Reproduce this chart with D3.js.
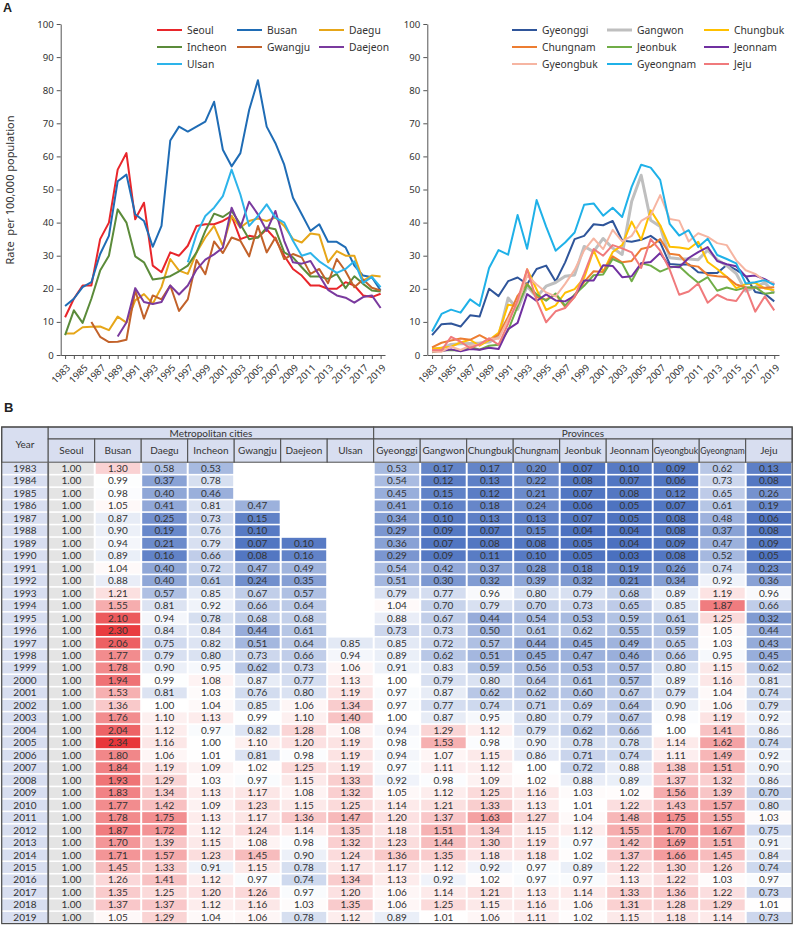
<!DOCTYPE html>
<html><head><meta charset="utf-8">
<script src="https://cdn.jsdelivr.net/npm/d3@7"></script>
<style>body{margin:0;background:#fff}svg{display:block}</style>
</head><body>
<svg id="c" width="794" height="925"></svg>
<script>
// ---------- categories ----------
const years = [1983,1984,1985,1986,1987,1988,1989,1990,1991,1992,1993,1994,1995,1996,1997,1998,1999,2000,2001,2002,2003,2004,2005,2006,2007,2008,2009,2010,2011,2012,2013,2014,2015,2016,2017,2018,2019];
const metroNames = ["Seoul","Busan","Daegu","Incheon","Gwangju","Daejeon","Ulsan"];
const provNames = ["Gyeonggi","Gangwon","Chungbuk","Chungnam","Jeonbuk","Jeonnam","Gyeongbuk","Gyeongnam","Jeju"];
const yTicks = [0,10,20,30,40,50,60,70,80,90,100];

// ---------- panel A: rates per 100,000 ----------
const seoul   = [11.4,17,21,21,35,40,56,61,41,46,27,25,31,30,33,39,39.5,39.5,40.5,42,35,36,35.5,38,35,30,26,24,21,21,20,20,22,21,18,17.5,18.5];
const busan   = [14.8,17,20.5,22,30.5,36,52.5,54.5,42.5,40.5,32.7,39,64.8,69,67.5,69,70.5,76.5,62,57,61,74,83,69,64,57.5,47.5,42.5,37.5,39.5,34.2,34.2,32.5,27,24,23.5,19.5];
const daegu   = [6.5,6.5,8.4,8.5,8.6,7.5,11.6,9.8,16.5,18.4,15.5,20.5,29,25.5,24.5,31,35.5,39,33,42,38.5,40.5,41.2,40.5,41.5,39,35,34,36.7,36.3,28,31.4,30,30,22.5,24,23.7];
const incheon = [6,13.5,9.7,17,25.5,30,44,40,29.8,28,22.8,23.2,23.8,25.3,27,31,37.5,42.7,41.7,43.5,39.5,35,35.5,38.5,38,31,29.5,26.5,23.7,23.7,23,24.5,20.2,23.8,21.5,19.5,19.2];
const gwangju = [null,null,null,10,5.5,3.9,4.0,4.6,19.5,11,18,16.8,21,13.3,16.8,28.7,24.4,34.3,30.8,35.5,34.5,29.8,39,31,35.5,29,30.5,29.5,24.5,26,21.7,29,25.3,20.5,22.8,20.3,19.5];
const daejeon = [null,null,null,null,null,null,5.6,9.8,20.2,16,15.4,16,21,18.3,21,25.8,28.8,30.4,32.4,44.5,38.5,46.3,42.5,37.5,43.5,34.5,28,27.6,28.4,24,19.7,18,17.3,15.8,17.5,18,14.2];
const ulsan   = [null,null,null,null,null,null,null,null,null,null,null,null,null,null,28,36.5,42,44.5,48,56,48.5,39,42,45.5,41.5,40,34.5,30,30.8,28.3,26.5,24.8,26,28.3,21.8,23.6,20.5];

const gyeonggi  = [6,9.3,9.5,8.6,12,11.6,20,17.8,22.3,23.4,21.4,26,27,22.2,28,35,36,39.5,39.2,40.5,34.6,34.2,34.8,36,34,27.5,27.3,27.4,25,24.8,24.8,27.2,25.7,23.8,19,18.5,16.2];
const gangwon   = [1.9,2,3.2,3.4,3.5,3.6,3.9,5.5,17.2,13.8,20.8,17.5,20.8,21.9,23.8,24.2,32.8,31.2,35.2,32.3,30.4,46.4,54.3,40.7,38.8,29.4,29.1,29,28.8,31.7,28.8,27,24.6,19.3,20.5,21.9,18.7];
const chungbuk  = [1.9,2.2,2.5,3.8,4.6,2.8,4.5,6.7,15.2,14.7,25.9,19.8,13.6,15,18.8,19.9,23.3,31.6,25.1,31.1,33.2,40.3,34.8,43.7,39.2,32.7,32.5,32,34.2,28.1,26,23.6,20.2,21.4,21.8,20.1,19.6];
const chungnam  = [2.3,3.7,4.4,5,4.6,6,4.5,6.1,11.5,17.9,21.6,17.5,16.7,18.3,14.5,17.6,22.1,25.3,25.1,29.8,28,28.4,32,32.7,35,30.6,30.2,27.1,26.7,24.2,23.8,23.6,21.3,20.4,20.3,20.3,20.5];
const jeonbuk   = [0.8,1.4,1.5,1.3,2.5,1.6,2.8,3.1,7.4,14.7,21.3,18.3,16.4,18.6,14.9,18.3,20.9,24.1,24.3,29,27.7,22.3,27.7,27,25.2,26.4,26.8,24.2,21.8,23.5,19.4,20.4,19.6,20.4,20.5,18.5,18.9];
const jeonnam   = [1.1,1.2,1.7,1.1,1.8,1.6,2.2,1.8,7.8,9.7,18.4,16.3,18.3,16.5,16.2,17.9,22.5,22.5,27.1,26.9,23.5,23.8,27.7,28.1,30.8,26.7,26.5,29.3,31.1,32.6,28.4,27.4,26.8,23.7,24,22.9,21.3];
const gyeongbuk = [1,1,2.5,1.5,2.8,3.2,5,4.9,10.7,15.6,24,21.3,18.9,17.7,21.5,25.7,31.6,35.2,32,37.8,34.3,36,40.5,42.2,48.3,41.1,40.6,34.3,36.8,35.7,33.8,33.2,28.6,25.6,24.5,22.4,21.8];
const gyeongnam = [7.1,12.4,13.7,12.8,16.8,14.8,26.3,31.7,30.3,42.3,32.1,46.8,38.8,31.5,34,37,45.4,45.8,42.1,44.5,41.7,50.8,57.5,56.6,52.9,39.6,36.1,37.7,32.6,35.1,30.2,29,27.7,21.6,22,22.6,21.1];
const jeju      = [1.5,1.4,5.5,4,2.1,3.2,5,3.1,9.4,16.6,25.9,16.5,9.9,13.2,14.2,17.6,24.5,32,30,33.2,32.2,31,26.3,35,31.5,25.8,18.2,19.2,21.6,15.8,18.2,16.8,16.3,20.4,13.1,17.7,13.5];

// ---------- panel B: rate relative to Seoul ----------
const relSeoul    = [1,1,1,1,1,1,1,1,1,1,1,1,1,1,1,1,1,1,1,1,1,1,1,1,1,1,1,1,1,1,1,1,1,1,1,1,1];
const relBusan    = [1.30,0.99,0.98,1.05,0.87,0.90,0.94,0.89,1.04,0.88,1.21,1.55,2.10,2.30,2.06,1.77,1.78,1.94,1.53,1.36,1.76,2.04,2.34,1.80,1.84,1.93,1.83,1.77,1.78,1.87,1.70,1.71,1.45,1.26,1.35,1.37,1.05];
const relDaegu    = [0.58,0.37,0.40,0.41,0.25,0.19,0.21,0.16,0.40,0.40,0.57,0.81,0.94,0.84,0.75,0.79,0.90,0.99,0.81,1.00,1.10,1.12,1.16,1.06,1.19,1.29,1.34,1.42,1.75,1.72,1.39,1.57,1.33,1.41,1.25,1.37,1.29];
const relIncheon  = [0.53,0.78,0.46,0.81,0.73,0.76,0.79,0.66,0.72,0.61,0.85,0.92,0.78,0.84,0.82,0.80,0.95,1.08,1.03,1.04,1.13,0.97,1.00,1.01,1.09,1.03,1.13,1.09,1.13,1.12,1.15,1.23,0.91,1.12,1.20,1.12,1.04];
const relGwangju  = [null,null,null,0.47,0.15,0.10,0.07,0.08,0.47,0.24,0.67,0.66,0.68,0.44,0.51,0.73,0.62,0.87,0.76,0.85,0.99,0.82,1.10,0.81,1.02,0.97,1.17,1.23,1.17,1.24,1.08,1.45,1.15,0.97,1.26,1.16,1.06];
const relDaejeon  = [null,null,null,null,null,null,0.10,0.16,0.49,0.35,0.57,0.64,0.68,0.61,0.64,0.66,0.73,0.77,0.80,1.06,1.10,1.28,1.20,0.98,1.25,1.15,1.08,1.15,1.36,1.14,0.98,0.90,0.78,0.74,0.97,1.03,0.78];
const relUlsan    = [null,null,null,null,null,null,null,null,null,null,null,null,null,null,0.85,0.94,1.06,1.13,1.19,1.34,1.40,1.08,1.19,1.19,1.19,1.33,1.32,1.25,1.47,1.35,1.32,1.24,1.17,1.34,1.20,1.35,1.12];
const relGyeonggi = [0.53,0.54,0.45,0.41,0.34,0.29,0.36,0.29,0.54,0.51,0.79,1.04,0.88,0.73,0.85,0.89,0.91,1.00,0.97,0.97,1.00,0.94,0.98,0.94,0.97,0.92,1.05,1.14,1.20,1.18,1.23,1.36,1.17,1.13,1.06,1.06,0.89];
const relGangwon  = [0.17,0.12,0.15,0.16,0.10,0.09,0.07,0.09,0.42,0.30,0.77,0.70,0.67,0.73,0.72,0.62,0.83,0.79,0.87,0.77,0.87,1.29,1.53,1.07,1.11,0.98,1.12,1.21,1.37,1.51,1.44,1.35,1.12,0.92,1.14,1.25,1.01];
const relChungbuk = [0.17,0.13,0.12,0.18,0.13,0.07,0.08,0.11,0.37,0.32,0.96,0.79,0.44,0.50,0.57,0.51,0.59,0.80,0.62,0.74,0.95,1.12,0.98,1.15,1.12,1.09,1.25,1.33,1.63,1.34,1.30,1.18,0.92,1.02,1.21,1.15,1.06];
const relChungnam = [0.20,0.22,0.21,0.24,0.13,0.15,0.08,0.10,0.28,0.39,0.80,0.70,0.54,0.61,0.44,0.45,0.56,0.64,0.62,0.71,0.80,0.79,0.90,0.86,1.00,1.02,1.16,1.13,1.27,1.15,1.19,1.18,0.97,0.97,1.13,1.16,1.11];
const relJeonbuk  = [0.07,0.08,0.07,0.06,0.07,0.04,0.05,0.05,0.18,0.32,0.79,0.73,0.53,0.62,0.45,0.47,0.53,0.61,0.60,0.69,0.79,0.62,0.78,0.71,0.72,0.88,1.03,1.01,1.04,1.12,0.97,1.02,0.89,0.97,1.14,1.06,1.02];
const relJeonnam  = [0.10,0.07,0.08,0.05,0.05,0.04,0.04,0.03,0.19,0.21,0.68,0.65,0.59,0.55,0.49,0.46,0.57,0.57,0.67,0.64,0.67,0.66,0.78,0.74,0.88,0.89,1.02,1.22,1.48,1.55,1.42,1.37,1.22,1.13,1.33,1.31,1.15];
const relGyeongbuk= [0.09,0.06,0.12,0.07,0.08,0.08,0.09,0.08,0.26,0.34,0.89,0.85,0.61,0.59,0.65,0.66,0.80,0.89,0.79,0.90,0.98,1.00,1.14,1.11,1.38,1.37,1.56,1.43,1.75,1.70,1.69,1.66,1.30,1.22,1.36,1.28,1.18];
const relGyeongnam= [0.62,0.73,0.65,0.61,0.48,0.37,0.47,0.52,0.74,0.92,1.19,1.87,1.25,1.05,1.03,0.95,1.15,1.16,1.04,1.06,1.19,1.41,1.62,1.49,1.51,1.32,1.39,1.57,1.55,1.67,1.51,1.45,1.26,1.03,1.22,1.29,1.14];
const relJeju     = [0.13,0.08,0.26,0.19,0.06,0.08,0.09,0.05,0.23,0.36,0.96,0.66,0.32,0.44,0.43,0.45,0.62,0.81,0.74,0.79,0.92,0.86,0.74,0.92,0.90,0.86,0.70,0.80,1.03,0.75,0.91,0.84,0.74,0.97,0.73,1.01,0.73];

// ---------- styles ----------
const metroColors = ["#e8262b","#1f6cb5","#e6a619","#5b8b3a","#c2622a","#7a3a9e","#2db4ea"];
const provColors  = ["#2f559a","#bfbfbf","#ffc000","#ed7d31","#70ad47","#7030a0","#f6b5a2","#1fb1e8","#f07a7c"];
const provWidths  = [2,3,2,2,2,2,2,2,2];

const svg = d3.select("#c");
const chartFont = "'Noto Sans', 'DejaVu Sans', sans-serif";
const axisCol = "#555";

function drawChart(cfg){
  const g = svg.append("g");
  const y = d3.scaleLinear().domain([0,100]).range([355,24]);
  const x = d3.scalePoint().domain(years).range([cfg.x0,cfg.x1]).padding(0.5);
  const ya = g.append("g").attr("transform",`translate(${cfg.x0},0)`)
    .call(d3.axisLeft(y).tickValues(yTicks).tickSize(4).tickSizeOuter(0).tickPadding(3));
  ya.selectAll("path,line").attr("stroke",axisCol);
  ya.selectAll("text").attr("font-family",chartFont).attr("font-size",9.6).attr("fill","#333");
  const xa = g.append("g").attr("transform","translate(0,355)")
    .call(d3.axisBottom(x).tickSize(4).tickSizeOuter(0).tickFormat((d,i)=> i%2===0 ? d : ""));
  xa.selectAll("path,line").attr("stroke",axisCol);
  xa.selectAll("text").attr("font-family",chartFont).attr("font-size",9.6).attr("fill","#333")
    .attr("x",0).attr("y",0).attr("dy","0.35em").attr("text-anchor","end")
    .attr("transform","translate(3,11) rotate(-45)");
  const line = d3.line().defined(d=>d.v!=null).x(d=>x(d.yr)).y(d=>y(d.v));
  cfg.series.forEach((s,i)=>{
    g.append("path").datum(years.map((yr,k)=>({yr:yr,v:s[k]})))
      .attr("d",line).attr("fill","none").attr("stroke",cfg.colors[i])
      .attr("stroke-width",cfg.widths ? cfg.widths[i] : 2).attr("stroke-linejoin","round");
  });
  cfg.names.forEach((n,i)=>{
    const lx = cfg.legX[i%3], ly = [30,47,64][Math.floor(i/3)];
    g.append("line").attr("x1",lx).attr("x2",lx+25).attr("y1",ly).attr("y2",ly)
      .attr("stroke",cfg.colors[i]).attr("stroke-width",cfg.widths ? cfg.widths[i] : 2);
    g.append("text").attr("x",lx+30).attr("y",ly).attr("dy","0.35em")
      .attr("font-family",chartFont).attr("font-size",10.3).attr("fill","#333").text(n);
  });
}

drawChart({x0:60.7,x1:385,names:metroNames,colors:metroColors,
  series:[seoul,busan,daegu,incheon,gwangju,daejeon,ulsan],legX:[157,237,319]});
drawChart({x0:427.3,x1:779,names:provNames,colors:provColors,widths:provWidths,
  series:[gyeonggi,gangwon,chungbuk,chungnam,jeonbuk,jeonnam,gyeongbuk,gyeongnam,jeju],legX:[512,607,704]});

svg.append("text").attr("transform","translate(14,190) rotate(-90)").attr("text-anchor","middle")
  .attr("font-family",chartFont).attr("font-size",11).attr("fill","#333")
  .style("white-space","pre").text("Rate  per 100,000 population");
svg.append("text").attr("x",3).attr("y",12).attr("font-family","'Liberation Sans', Arial, sans-serif")
  .attr("font-weight","bold").attr("font-size",12.5).attr("fill","#222").text("A");
svg.append("text").attr("x",4).attr("y",412).attr("font-family","'Liberation Sans', Arial, sans-serif")
  .attr("font-weight","bold").attr("font-size",13).attr("fill","#222").text("B");

// ---------- table ----------
const tFont = "Lato, 'Noto Sans', sans-serif";
const relCols = [relSeoul,relBusan,relDaegu,relIncheon,relGwangju,relDaejeon,relUlsan,
  relGyeonggi,relGangwon,relChungbuk,relChungnam,relJeonbuk,relJeonnam,relGyeongbuk,relGyeongnam,relJeju];
const colNames = metroNames.concat(provNames);
const tx0 = 1.7, hy0 = 427, hy1 = 439, hy2 = 462.2, rowH = 12.47;
const colX = d3.scaleBand().domain(d3.range(17)).range([tx0, tx0 + 17*46.5]);
const colW = colX.bandwidth();
const rowY = d3.scaleBand().domain(years).range([hy2, hy2 + years.length*rowH]);
const tBottom = hy2 + years.length*rowH;
const hdrFill = "#d8def0", border = "#4d4d4d";
const allVals = relCols.flat().filter(v=>v!=null);
const vMin = d3.min(allVals), vMax = d3.max(allVals);
const blueScale = d3.scaleLinear().domain([vMin,1]).range(["#4a70bf","#ffffff"]).interpolate(d3.interpolateRgb);
const redScale  = d3.scaleLinear().domain([1,vMax]).range(["#ffffff","#e8363a"]).interpolate(d3.interpolateRgb);
const fmt = d3.format(".2f");
const T = svg.append("g");

T.append("rect").attr("x",colX(0)).attr("y",hy0).attr("width",colW).attr("height",hy2-hy0)
  .attr("fill",hdrFill).attr("stroke",border).attr("stroke-width",1);
T.append("text").attr("x",colX(0)+colW/2).attr("y",(hy0+hy2)/2).attr("dy","0.35em").attr("text-anchor","middle")
  .attr("font-family",tFont).attr("font-size",10).attr("fill","#333").text("Year");
[["Metropolitan cities",1,7],["Provinces",8,9]].forEach(([t,s,n])=>{
  T.append("rect").attr("x",colX(s)).attr("y",hy0).attr("width",colW*n).attr("height",hy1-hy0)
    .attr("fill",hdrFill).attr("stroke",border).attr("stroke-width",1);
  T.append("text").attr("x",colX(s)+colW*n/2).attr("y",(hy0+hy1)/2).attr("dy","0.35em").attr("text-anchor","middle")
    .attr("font-family",tFont).attr("font-size",10).attr("fill","#333").text(t);
});
colNames.forEach((n,i)=>{
  T.append("rect").attr("x",colX(i+1)).attr("y",hy1).attr("width",colW).attr("height",hy2-hy1)
    .attr("fill",hdrFill).attr("stroke",border).attr("stroke-width",1);
  const t = T.append("text").attr("x",colX(i+1)+colW/2).attr("y",(hy1+hy2)/2).attr("dy","0.35em").attr("text-anchor","middle")
    .attr("font-family",tFont).attr("font-size",10).attr("fill","#333").text(n);
  const w = t.node().getComputedTextLength();
  if (w > colW - 2) t.attr("textLength", colW - 2).attr("lengthAdjust","spacingAndGlyphs");
});

years.forEach((yr,r)=>{
  const y0 = rowY(yr);
  T.append("rect").attr("x",colX(0)).attr("y",y0+0.8).attr("width",colW).attr("height",rowH-1.6).attr("fill",hdrFill);
  T.append("text").attr("x",colX(0)+colW/2).attr("y",y0+rowH/2).attr("dy","0.35em").attr("text-anchor","middle")
    .attr("font-family",tFont).attr("font-size",10).attr("fill","#333").text(yr);
  relCols.forEach((col,c)=>{
    const v = col[r];
    if (v==null) return;
    const fill = c===0 ? "#e4e4e4" : (v<1 ? blueScale(v) : redScale(v));
    T.append("rect").attr("x",colX(c+1)+1).attr("y",y0+0.8).attr("width",colW-2).attr("height",rowH-1.6).attr("fill",fill);
    T.append("text").attr("x",colX(c+1)+colW/2).attr("y",y0+rowH/2).attr("dy","0.35em").attr("text-anchor","middle")
      .attr("font-family",tFont).attr("font-size",10).attr("fill","#333").text(fmt(v));
  });
});
T.append("line").attr("x1",colX(1)).attr("x2",colX(1)).attr("y1",hy2).attr("y2",tBottom).attr("stroke","#666").attr("stroke-width",1.8);
T.append("rect").attr("x",tx0).attr("y",hy0).attr("width",17*colW).attr("height",tBottom-hy0)
  .attr("fill","none").attr("stroke",border).attr("stroke-width",1.2);
</script>
</body></html>
